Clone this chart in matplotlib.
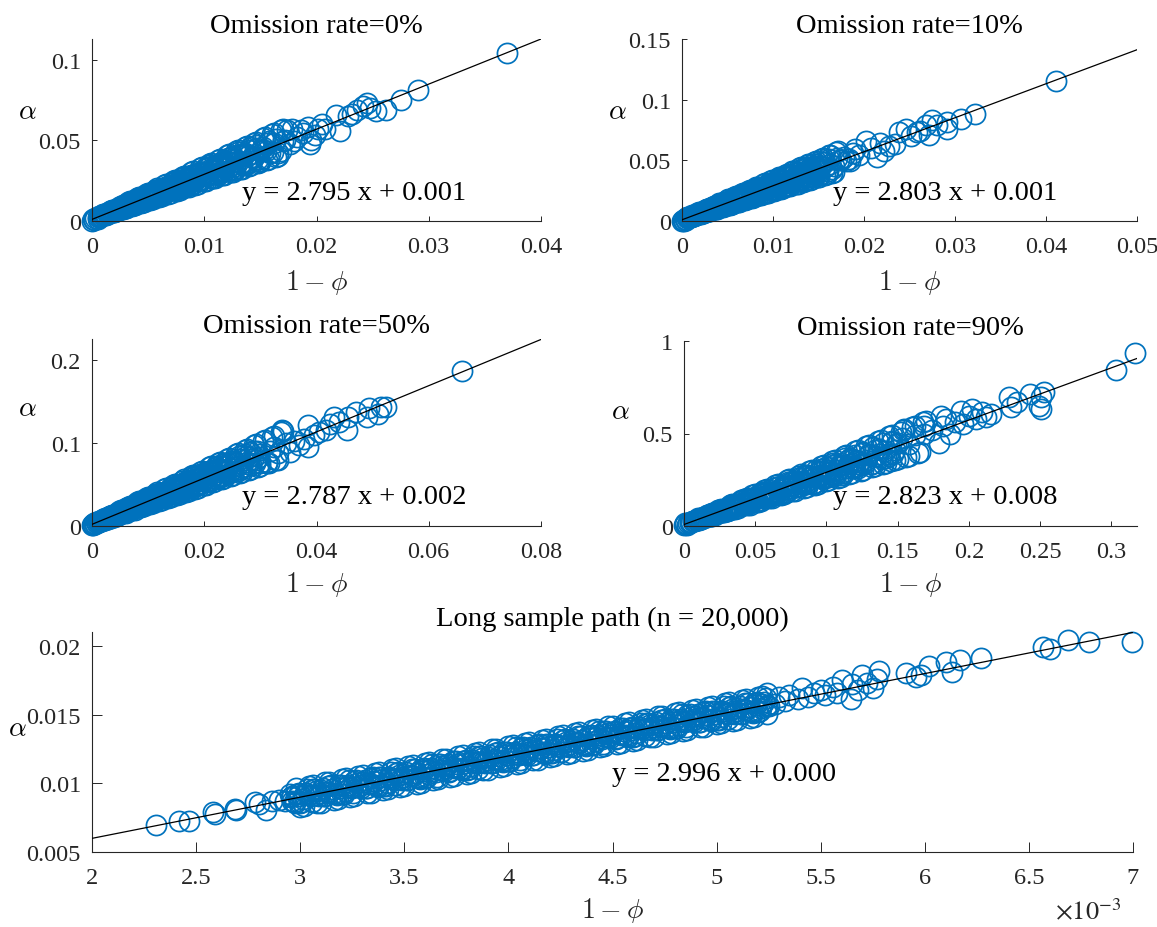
import numpy as np
import matplotlib
matplotlib.use("Agg")
import matplotlib.pyplot as plt
from matplotlib.ticker import FormatStrFormatter

plt.rcParams['font.family'] = ['Liberation Serif', 'DejaVu Serif']
plt.rcParams['mathtext.fontset'] = 'cm'

BLUE = '#0072BD'
GREY = '#262626'

# ---- omission rate = 0% ----
x1 = [0.0000, 0.0001, 0.0002, 0.0003, 0.0005,
      0.0006, 0.0008, 0.0010, 0.0012, 0.0013, 0.0015, 0.0016, 0.0018, 0.0019, 0.0021,
      0.0022, 0.0024, 0.0025, 0.0027, 0.0028, 0.0030, 0.0031, 0.0033, 0.0034, 0.0036,
      0.0037, 0.0039, 0.0040, 0.0042, 0.0043, 0.0045, 0.0046, 0.0048, 0.0049, 0.0051,
      0.0052, 0.0054, 0.0055, 0.0057, 0.0058, 0.0060, 0.0061, 0.0063, 0.0064, 0.0066,
      0.0067, 0.0069, 0.0070, 0.0072, 0.0073, 0.0075, 0.0076, 0.0078, 0.0079, 0.0081,
      0.0082, 0.0084, 0.0085, 0.0087, 0.0088, 0.0090, 0.0091, 0.0093, 0.0094, 0.0096,
      0.0097, 0.0099, 0.0100, 0.0102, 0.0104, 0.0106, 0.0108, 0.0110, 0.0112, 0.0114,
      0.0116, 0.0118, 0.0120, 0.0122, 0.0124, 0.0126, 0.0128, 0.0130, 0.0132, 0.0134,
      0.0136, 0.0138, 0.0140, 0.0143, 0.0146, 0.0149, 0.0152, 0.0155, 0.0158, 0.0161,
      0.0164, 0.0168, 0.0172, 0.0176,
      0.0178, 0.0183, 0.0188, 0.0192, 0.0195, 0.0199, 0.0205, 0.0208, 0.0217, 0.0221,
      0.0228, 0.0232, 0.0236, 0.0241, 0.0245, 0.0248, 0.0253, 0.0262, 0.0275, 0.0290, 0.0370]
y1 = [0.0000, 0.0015, 0.0005, 0.0020, 0.0010,
      0.0028, 0.0030, 0.0039, 0.0042, 0.0051, 0.0047, 0.0057, 0.0059, 0.0069, 0.0064,
      0.0077, 0.0070, 0.0081, 0.0082, 0.0098, 0.0083, 0.0101, 0.0101, 0.0115, 0.0103,
      0.0122, 0.0108, 0.0124, 0.0122, 0.0145, 0.0120, 0.0145, 0.0142, 0.0161, 0.0141,
      0.0167, 0.0146, 0.0167, 0.0162, 0.0192, 0.0156, 0.0189, 0.0183, 0.0207, 0.0180,
      0.0213, 0.0184, 0.0210, 0.0202, 0.0239, 0.0193, 0.0233, 0.0224, 0.0253, 0.0219,
      0.0258, 0.0222, 0.0253, 0.0241, 0.0286, 0.0229, 0.0278, 0.0265, 0.0300, 0.0257,
      0.0303, 0.0260, 0.0296, 0.0281, 0.0336, 0.0268, 0.0328, 0.0312, 0.0355, 0.0304,
      0.0361, 0.0307, 0.0353, 0.0335, 0.0399, 0.0317, 0.0386, 0.0367, 0.0417, 0.0355,
      0.0421, 0.0358, 0.0410, 0.0390, 0.0468, 0.0373, 0.0457, 0.0435, 0.0497, 0.0425,
      0.0506, 0.0433, 0.0501, 0.0478,
      0.0570, 0.0520, 0.0545, 0.0580, 0.0505, 0.0535, 0.0600, 0.0570, 0.0660, 0.0555,
      0.0650, 0.0665, 0.0690, 0.0710, 0.0730, 0.0700, 0.0680, 0.0690, 0.0750, 0.0810, 0.1040]
x1b = [0.0007, 0.0009, 0.0011, 0.0014, 0.0017, 0.0020, 0.0023, 0.0026, 0.0029, 0.0032,
       0.0035, 0.0038, 0.0041, 0.0044, 0.0047, 0.0050, 0.0053, 0.0056, 0.0059, 0.0062,
       0.0065, 0.0068, 0.0071, 0.0074, 0.0077, 0.0080, 0.0083, 0.0086, 0.0089, 0.0092,
       0.0095, 0.0098, 0.0101, 0.0103, 0.0105, 0.0107, 0.0109, 0.0111, 0.0113, 0.0115,
       0.0117, 0.0119, 0.0121, 0.0123, 0.0125, 0.0127, 0.0129, 0.0131, 0.0133, 0.0135,
       0.0137, 0.0139, 0.0141, 0.0144, 0.0147, 0.0150, 0.0153, 0.0156, 0.0159, 0.0162,
       0.0166, 0.0170, 0.0174, 0.0180, 0.0186, 0.0194, 0.0201]
y1b = [0.0027, 0.0036, 0.0045, 0.0048, 0.0061, 0.0058, 0.0074, 0.0089, 0.0086, 0.0104,
       0.0097, 0.0119, 0.0140, 0.0128, 0.0151, 0.0130, 0.0158, 0.0181, 0.0164, 0.0192,
       0.0172, 0.0204, 0.0235, 0.0209, 0.0241, 0.0203, 0.0242, 0.0272, 0.0242, 0.0280,
       0.0247, 0.0290, 0.0330, 0.0287, 0.0325, 0.0268, 0.0315, 0.0349, 0.0304, 0.0348,
       0.0302, 0.0350, 0.0393, 0.0341, 0.0385, 0.0316, 0.0371, 0.0410, 0.0356, 0.0407,
       0.0351, 0.0407, 0.0456, 0.0397, 0.0450, 0.0371, 0.0438, 0.0486, 0.0424, 0.0486,
       0.0424, 0.0496, 0.0561, 0.0494, 0.0567, 0.0477, 0.0573]
x1c = [0.00050, 0.00075, 0.00100, 0.00125, 0.00150, 0.00175, 0.00200, 0.00225, 0.00250, 0.00275,
       0.00300, 0.00325, 0.00350, 0.00375, 0.00400, 0.00425, 0.00450, 0.00475, 0.00500, 0.00525,
       0.00550, 0.00575, 0.00600, 0.00625, 0.00650, 0.00675, 0.00700, 0.00725, 0.00750, 0.00775,
       0.00800, 0.00825, 0.00850, 0.00875, 0.00900, 0.00925, 0.00950, 0.00975, 0.01000, 0.01025,
       0.01050, 0.01075, 0.01100, 0.01125, 0.01150, 0.01175, 0.01200, 0.01225, 0.01250, 0.01275,
       0.01300, 0.01325, 0.01350, 0.01375, 0.01400, 0.01425, 0.01450, 0.01475, 0.01500]
y1c = [0.0026, 0.0030, 0.0039, 0.0040, 0.0056, 0.0058, 0.0070, 0.0067, 0.0081, 0.0082,
       0.0106, 0.0096, 0.0113, 0.0101, 0.0133, 0.0125, 0.0146, 0.0130, 0.0151, 0.0147,
       0.0186, 0.0161, 0.0186, 0.0162, 0.0210, 0.0193, 0.0222, 0.0193, 0.0222, 0.0212,
       0.0265, 0.0227, 0.0260, 0.0223, 0.0287, 0.0261, 0.0297, 0.0256, 0.0293, 0.0277,
       0.0345, 0.0293, 0.0333, 0.0284, 0.0364, 0.0329, 0.0373, 0.0319, 0.0364, 0.0342,
       0.0425, 0.0359, 0.0407, 0.0345, 0.0441, 0.0397, 0.0449, 0.0382, 0.0434]
# points along the upper / lower edge of the band
x1d = [0.0010, 0.0014, 0.0018, 0.0022, 0.0026, 0.0030, 0.0034, 0.0038, 0.0042, 0.0046,
       0.0050, 0.0054, 0.0058, 0.0062, 0.0066, 0.0070, 0.0074, 0.0078, 0.0082, 0.0086,
       0.0090, 0.0094, 0.0098, 0.0102, 0.0106, 0.0110, 0.0114, 0.0118, 0.0122, 0.0126,
       0.0130, 0.0134, 0.0138, 0.0142, 0.0146, 0.0150, 0.0154, 0.0158, 0.0162, 0.0166, 0.0170]
y1d = [0.0043, 0.0043, 0.0069, 0.0062, 0.0096, 0.0081, 0.0122, 0.0099, 0.0149, 0.0118,
       0.0175, 0.0137, 0.0202, 0.0156, 0.0228, 0.0175, 0.0255, 0.0193, 0.0281, 0.0212,
       0.0307, 0.0231, 0.0334, 0.0250, 0.0360, 0.0269, 0.0387, 0.0288, 0.0413, 0.0306,
       0.0440, 0.0325, 0.0466, 0.0344, 0.0492, 0.0363, 0.0519, 0.0382, 0.0545, 0.0400, 0.0572]
x1e = [0.0012, 0.0016, 0.0020, 0.0024, 0.0028, 0.0032, 0.0036, 0.0040, 0.0044, 0.0048,
       0.0052, 0.0056, 0.0060, 0.0064, 0.0068, 0.0072, 0.0076, 0.0080, 0.0084, 0.0088,
       0.0092, 0.0096, 0.0100, 0.0104, 0.0108, 0.0112, 0.0116, 0.0120, 0.0124, 0.0128,
       0.0132, 0.0136, 0.0140, 0.0144, 0.0148, 0.0152, 0.0156, 0.0160, 0.0164, 0.0168]
y1e = [0.0038, 0.0063, 0.0057, 0.0089, 0.0076, 0.0116, 0.0095, 0.0142, 0.0113, 0.0169,
       0.0132, 0.0195, 0.0151, 0.0221, 0.0170, 0.0248, 0.0189, 0.0274, 0.0208, 0.0301,
       0.0226, 0.0327, 0.0245, 0.0354, 0.0264, 0.0380, 0.0283, 0.0406, 0.0302, 0.0433,
       0.0320, 0.0459, 0.0339, 0.0486, 0.0358, 0.0512, 0.0377, 0.0539, 0.0396, 0.0565]

# ---- omission rate = 10% ----
x2 = [0.0000, 0.0001, 0.0002, 0.0003, 0.0004,
      0.0006, 0.0008, 0.0010, 0.0012, 0.0014, 0.0016, 0.0018, 0.0020, 0.0022, 0.0024,
      0.0026, 0.0028, 0.0030, 0.0032, 0.0034, 0.0036, 0.0038, 0.0040, 0.0042, 0.0044,
      0.0046, 0.0048, 0.0050, 0.0052, 0.0054, 0.0056, 0.0058, 0.0060, 0.0062, 0.0064,
      0.0066, 0.0068, 0.0070, 0.0072, 0.0074, 0.0076, 0.0078, 0.0080, 0.0082, 0.0084,
      0.0086, 0.0088, 0.0090, 0.0092, 0.0094, 0.0096, 0.0098, 0.0100, 0.0102, 0.0104,
      0.0106, 0.0108, 0.0110, 0.0112, 0.0114, 0.0116, 0.0118, 0.0120, 0.0122, 0.0124,
      0.0126, 0.0128, 0.0130, 0.0132, 0.0134, 0.0136, 0.0138, 0.0140, 0.0142, 0.0144,
      0.0146, 0.0148, 0.0150,
      0.0153, 0.0157, 0.0161, 0.0165, 0.0170, 0.0175, 0.0180, 0.0185, 0.0190,
      0.0195, 0.0202, 0.0208, 0.0214, 0.0218, 0.0222, 0.0228, 0.0234, 0.0238, 0.0246,
      0.0252, 0.0258, 0.0262, 0.0268, 0.0271, 0.0275, 0.0280, 0.0291, 0.0291, 0.0307,
      0.0322, 0.0411]
y2 = [0.0000, 0.0012, 0.0004, 0.0018, 0.0008,
      0.0026, 0.0035, 0.0035, 0.0045, 0.0048, 0.0060, 0.0056, 0.0070, 0.0072, 0.0075,
      0.0078, 0.0096, 0.0084, 0.0103, 0.0103, 0.0123, 0.0107, 0.0130, 0.0128, 0.0128,
      0.0131, 0.0158, 0.0133, 0.0161, 0.0158, 0.0186, 0.0158, 0.0190, 0.0184, 0.0182,
      0.0184, 0.0219, 0.0182, 0.0220, 0.0213, 0.0248, 0.0209, 0.0250, 0.0240, 0.0236,
      0.0236, 0.0281, 0.0232, 0.0278, 0.0268, 0.0311, 0.0260, 0.0310, 0.0296, 0.0290,
      0.0289, 0.0343, 0.0281, 0.0336, 0.0323, 0.0374, 0.0311, 0.0370, 0.0352, 0.0343,
      0.0342, 0.0404, 0.0330, 0.0394, 0.0378, 0.0437, 0.0362, 0.0429, 0.0408, 0.0397,
      0.0394, 0.0466, 0.0380,
      0.0456, 0.0441, 0.0515, 0.0430, 0.0519, 0.0500, 0.0494, 0.0497, 0.0595,
      0.0545, 0.0660, 0.0600, 0.0526, 0.0640, 0.0580, 0.0615, 0.0636, 0.0730, 0.0760,
      0.0700, 0.0733, 0.0745, 0.0790, 0.0706, 0.0830, 0.0790, 0.0816, 0.0760, 0.0844,
      0.0885, 0.1154]
x2b = [0.0007, 0.0010, 0.0013, 0.0016, 0.0019, 0.0022, 0.0025, 0.0028, 0.0031, 0.0034,
       0.0037, 0.0040, 0.0043, 0.0046, 0.0049, 0.0052, 0.0055, 0.0058, 0.0061, 0.0064,
       0.0067, 0.0070, 0.0073, 0.0076, 0.0079, 0.0082, 0.0085, 0.0088, 0.0091, 0.0094,
       0.0097, 0.0100, 0.0103, 0.0106, 0.0109, 0.0112, 0.0115, 0.0118, 0.0121, 0.0124,
       0.0127, 0.0130, 0.0133, 0.0136, 0.0139, 0.0142, 0.0145, 0.0148, 0.0151, 0.0154,
       0.0157, 0.0160, 0.0163, 0.0167, 0.0172, 0.0178, 0.0183, 0.0188]
y2b = [0.0031, 0.0035, 0.0046, 0.0061, 0.0059, 0.0074, 0.0071, 0.0093, 0.0094, 0.0116,
       0.0123, 0.0111, 0.0130, 0.0156, 0.0138, 0.0161, 0.0144, 0.0182, 0.0176, 0.0209,
       0.0214, 0.0186, 0.0214, 0.0250, 0.0216, 0.0249, 0.0217, 0.0271, 0.0257, 0.0302,
       0.0306, 0.0262, 0.0298, 0.0345, 0.0294, 0.0336, 0.0290, 0.0360, 0.0339, 0.0395,
       0.0398, 0.0338, 0.0382, 0.0440, 0.0372, 0.0424, 0.0363, 0.0449, 0.0420, 0.0489,
       0.0489, 0.0413, 0.0470, 0.0455, 0.0505, 0.0530, 0.0510, 0.0560]
x2c = [0.0006, 0.00085, 0.0011, 0.00135, 0.0016, 0.00185, 0.0021, 0.00235, 0.0026, 0.00285,
       0.0031, 0.00335, 0.0036, 0.00385, 0.0041, 0.00435, 0.0046, 0.00485, 0.0051, 0.00535,
       0.0056, 0.00585, 0.0061, 0.00635, 0.0066, 0.00685, 0.0071, 0.00735, 0.0076, 0.00785,
       0.0081, 0.00835, 0.0086, 0.00885, 0.0091, 0.00935, 0.0096, 0.00985, 0.0101, 0.01035,
       0.0106, 0.01085, 0.0111, 0.01135, 0.0116, 0.01185, 0.0121, 0.01235, 0.0126, 0.01285,
       0.0131, 0.01335, 0.0136, 0.01385, 0.0141, 0.01435, 0.0146, 0.01485, 0.0151]
y2c = [0.0029, 0.0033, 0.0042, 0.0043, 0.0059, 0.0061, 0.0073, 0.0070, 0.0084, 0.0085,
       0.0109, 0.0099, 0.0116, 0.0104, 0.0136, 0.0128, 0.0149, 0.0133, 0.0154, 0.0150,
       0.0189, 0.0164, 0.0189, 0.0165, 0.0213, 0.0196, 0.0225, 0.0196, 0.0225, 0.0215,
       0.0268, 0.0230, 0.0263, 0.0226, 0.0290, 0.0264, 0.0300, 0.0259, 0.0296, 0.0280,
       0.0348, 0.0296, 0.0336, 0.0287, 0.0367, 0.0332, 0.0376, 0.0322, 0.0367, 0.0345,
       0.0428, 0.0362, 0.0410, 0.0348, 0.0444, 0.0400, 0.0452, 0.0385, 0.0437]
x2d = [0.0011, 0.0015, 0.0019, 0.0023, 0.0027, 0.0031, 0.0035, 0.0039, 0.0043, 0.0047,
       0.0051, 0.0055, 0.0059, 0.0063, 0.0067, 0.0071, 0.0075, 0.0079, 0.0083, 0.0087,
       0.0091, 0.0095, 0.0099, 0.0103, 0.0107, 0.0111, 0.0115, 0.0119, 0.0123, 0.0127,
       0.0131, 0.0135, 0.0139, 0.0143, 0.0147, 0.0151, 0.0155, 0.0159, 0.0163, 0.0167, 0.0171]
y2d = [0.0046, 0.0046, 0.0072, 0.0065, 0.0099, 0.0084, 0.0125, 0.0102, 0.0152, 0.0121,
       0.0178, 0.0140, 0.0205, 0.0159, 0.0231, 0.0178, 0.0258, 0.0196, 0.0284, 0.0215,
       0.0310, 0.0234, 0.0337, 0.0253, 0.0363, 0.0272, 0.0390, 0.0291, 0.0416, 0.0309,
       0.0443, 0.0328, 0.0469, 0.0347, 0.0495, 0.0366, 0.0522, 0.0385, 0.0548, 0.0403, 0.0575]
x2e = [0.0013, 0.0017, 0.0021, 0.0025, 0.0029, 0.0033, 0.0037, 0.0041, 0.0045, 0.0049,
       0.0053, 0.0057, 0.0061, 0.0065, 0.0069, 0.0073, 0.0077, 0.0081, 0.0085, 0.0089,
       0.0093, 0.0097, 0.0101, 0.0105, 0.0109, 0.0113, 0.0117, 0.0121, 0.0125, 0.0129,
       0.0133, 0.0137, 0.0141, 0.0145, 0.0149, 0.0153, 0.0157, 0.0161, 0.0165, 0.0169]
y2e = [0.0041, 0.0066, 0.0060, 0.0092, 0.0079, 0.0119, 0.0098, 0.0145, 0.0116, 0.0172,
       0.0135, 0.0198, 0.0154, 0.0224, 0.0173, 0.0251, 0.0192, 0.0277, 0.0211, 0.0304,
       0.0229, 0.0330, 0.0248, 0.0357, 0.0267, 0.0383, 0.0286, 0.0409, 0.0305, 0.0436,
       0.0323, 0.0462, 0.0342, 0.0489, 0.0361, 0.0515, 0.0380, 0.0542, 0.0399, 0.0568]

# ---- omission rate = 50% ----
x3 = [0.0000, 0.0001, 0.0002, 0.0003, 0.0005,
      0.0008, 0.0012, 0.0016, 0.0020, 0.0024, 0.0028, 0.0032, 0.0036, 0.0040, 0.0044,
      0.0048, 0.0052, 0.0056, 0.0060, 0.0064, 0.0068, 0.0072, 0.0076, 0.0080, 0.0084,
      0.0088, 0.0092, 0.0096, 0.0100, 0.0104, 0.0108, 0.0112, 0.0116, 0.0120, 0.0124,
      0.0128, 0.0132, 0.0136, 0.0140, 0.0144, 0.0148, 0.0152, 0.0156, 0.0160, 0.0164,
      0.0168, 0.0172, 0.0176, 0.0180, 0.0184, 0.0188, 0.0192, 0.0196, 0.0200, 0.0204,
      0.0208, 0.0212, 0.0216, 0.0220, 0.0224, 0.0228, 0.0232, 0.0236, 0.0240, 0.0244,
      0.0248, 0.0252, 0.0256, 0.0260, 0.0264, 0.0268, 0.0272, 0.0276, 0.0280, 0.0284,
      0.0288, 0.0292, 0.0296, 0.0300,
      0.0312, 0.0318, 0.0325, 0.0332, 0.0339, 0.0345, 0.0352, 0.0360, 0.0368, 0.0378,
      0.0385, 0.0385, 0.0395, 0.0405, 0.0417, 0.0424, 0.0431, 0.0440, 0.0454, 0.0457,
      0.0470, 0.0490, 0.0493, 0.0510, 0.0515, 0.0523, 0.0659]
y3 = [0.0010, 0.0025, 0.0015, 0.0035, 0.0020,
      0.0045, 0.0052, 0.0066, 0.0069, 0.0091, 0.0092, 0.0120, 0.0119, 0.0136, 0.0131,
      0.0168, 0.0158, 0.0182, 0.0168, 0.0210, 0.0195, 0.0246, 0.0229, 0.0253, 0.0232,
      0.0291, 0.0265, 0.0297, 0.0266, 0.0329, 0.0298, 0.0371, 0.0338, 0.0369, 0.0332,
      0.0414, 0.0371, 0.0412, 0.0365, 0.0447, 0.0401, 0.0497, 0.0448, 0.0486, 0.0433,
      0.0537, 0.0478, 0.0528, 0.0464, 0.0566, 0.0504, 0.0622, 0.0558, 0.0602, 0.0534,
      0.0661, 0.0584, 0.0643, 0.0562, 0.0685, 0.0607, 0.0748, 0.0668, 0.0719, 0.0635,
      0.0784, 0.0690, 0.0758, 0.0661, 0.0804, 0.0710, 0.0873, 0.0777, 0.0835, 0.0736,
      0.0907, 0.0797, 0.0874, 0.0759,
      0.0770, 0.0900, 0.0950, 0.0880, 0.1154, 0.1000, 0.0890, 0.1030, 0.0980, 0.1050,
      0.1215, 0.0951, 0.1100, 0.1130, 0.1154, 0.1235, 0.1316, 0.1250, 0.1154, 0.1316,
      0.1377, 0.1316, 0.1417, 0.1356, 0.1430, 0.1437, 0.1870]
x3b = [0.0010, 0.0014, 0.0018, 0.0022, 0.0026, 0.0030, 0.0034, 0.0038, 0.0042, 0.0046,
       0.0050, 0.0054, 0.0058, 0.0062, 0.0066, 0.0070, 0.0074, 0.0078, 0.0082, 0.0086,
       0.0090, 0.0094, 0.0098, 0.0102, 0.0106, 0.0110, 0.0114, 0.0118, 0.0122, 0.0126,
       0.0130, 0.0134, 0.0138, 0.0142, 0.0146, 0.0150, 0.0154, 0.0158, 0.0162, 0.0166,
       0.0170, 0.0174, 0.0178, 0.0182, 0.0186, 0.0190, 0.0194, 0.0198, 0.0202, 0.0206,
       0.0210, 0.0214, 0.0218, 0.0222, 0.0226, 0.0230, 0.0234, 0.0238, 0.0242, 0.0246,
       0.0250, 0.0254, 0.0258, 0.0262, 0.0266, 0.0270, 0.0274, 0.0278, 0.0282, 0.0286,
       0.0290, 0.0294, 0.0298]
y3b = [0.0045, 0.0062, 0.0069, 0.0089, 0.0085, 0.0106, 0.0122, 0.0120, 0.0149, 0.0148,
       0.0147, 0.0183, 0.0178, 0.0214, 0.0184, 0.0220, 0.0242, 0.0225, 0.0273, 0.0258,
       0.0249, 0.0304, 0.0286, 0.0340, 0.0284, 0.0334, 0.0362, 0.0331, 0.0396, 0.0369,
       0.0351, 0.0425, 0.0395, 0.0465, 0.0384, 0.0448, 0.0481, 0.0436, 0.0519, 0.0480,
       0.0453, 0.0546, 0.0503, 0.0591, 0.0484, 0.0563, 0.0601, 0.0541, 0.0642, 0.0591,
       0.0555, 0.0667, 0.0612, 0.0716, 0.0583, 0.0677, 0.0721, 0.0646, 0.0765, 0.0702,
       0.0657, 0.0788, 0.0721, 0.0842, 0.0683, 0.0791, 0.0841, 0.0752, 0.0889, 0.0813,
       0.0759, 0.0909, 0.0829]
x3c = [0.0009, 0.0013, 0.0017, 0.0021, 0.0025, 0.0029, 0.0033, 0.0037, 0.0041, 0.0045,
       0.0049, 0.0053, 0.0057, 0.0061, 0.0065, 0.0069, 0.0073, 0.0077, 0.0081, 0.0085,
       0.0089, 0.0093, 0.0097, 0.0101, 0.0105, 0.0109, 0.0113, 0.0117, 0.0121, 0.0125,
       0.0129, 0.0133, 0.0137, 0.0141, 0.0145, 0.0149, 0.0153, 0.0157, 0.0161, 0.0165,
       0.0169, 0.0173, 0.0177, 0.0181, 0.0185, 0.0189, 0.0193, 0.0197, 0.0201, 0.0205,
       0.0209, 0.0213, 0.0217, 0.0221, 0.0225, 0.0229, 0.0233, 0.0237, 0.0241, 0.0245]
y3c = [0.0042, 0.0060, 0.0066, 0.0087, 0.0084, 0.0104, 0.0102, 0.0135, 0.0133, 0.0154,
       0.0139, 0.0182, 0.0173, 0.0215, 0.0187, 0.0219, 0.0202, 0.0259, 0.0242, 0.0272,
       0.0237, 0.0304, 0.0281, 0.0342, 0.0290, 0.0334, 0.0302, 0.0384, 0.0352, 0.0391,
       0.0334, 0.0426, 0.0388, 0.0470, 0.0394, 0.0450, 0.0401, 0.0508, 0.0462, 0.0510,
       0.0432, 0.0548, 0.0496, 0.0598, 0.0497, 0.0565, 0.0501, 0.0632, 0.0572, 0.0628,
       0.0529, 0.0670, 0.0603, 0.0725, 0.0600, 0.0680, 0.0601, 0.0757, 0.0681, 0.0747]
x3d = [0.0020, 0.0028, 0.0036, 0.0044, 0.0052, 0.0060, 0.0068, 0.0076, 0.0084, 0.0092,
       0.0100, 0.0108, 0.0116, 0.0124, 0.0132, 0.0140, 0.0148, 0.0156, 0.0164, 0.0172,
       0.0180, 0.0188, 0.0196, 0.0204, 0.0212, 0.0220, 0.0228, 0.0236, 0.0244, 0.0252,
       0.0260, 0.0268, 0.0276, 0.0284, 0.0292, 0.0300, 0.0308, 0.0316, 0.0324, 0.0332, 0.0340]
y3d = [0.0086, 0.0086, 0.0138, 0.0124, 0.0192, 0.0162, 0.0244, 0.0198, 0.0298, 0.0236,
       0.0350, 0.0274, 0.0404, 0.0312, 0.0456, 0.0350, 0.0510, 0.0386, 0.0562, 0.0424,
       0.0614, 0.0462, 0.0668, 0.0500, 0.0720, 0.0538, 0.0774, 0.0576, 0.0826, 0.0612,
       0.0880, 0.0650, 0.0932, 0.0688, 0.0984, 0.0726, 0.1038, 0.0764, 0.1090, 0.0800, 0.1144]
x3e = [0.0024, 0.0032, 0.0040, 0.0048, 0.0056, 0.0064, 0.0072, 0.0080, 0.0088, 0.0096,
       0.0104, 0.0112, 0.0120, 0.0128, 0.0136, 0.0144, 0.0152, 0.0160, 0.0168, 0.0176,
       0.0184, 0.0192, 0.0200, 0.0208, 0.0216, 0.0224, 0.0232, 0.0240, 0.0248, 0.0256,
       0.0264, 0.0272, 0.0280, 0.0288, 0.0296, 0.0304, 0.0312, 0.0320, 0.0328, 0.0336]
y3e = [0.0076, 0.0126, 0.0114, 0.0178, 0.0152, 0.0232, 0.0190, 0.0284, 0.0226, 0.0338,
       0.0264, 0.0390, 0.0302, 0.0442, 0.0340, 0.0496, 0.0378, 0.0548, 0.0416, 0.0602,
       0.0452, 0.0654, 0.0490, 0.0708, 0.0528, 0.0760, 0.0566, 0.0812, 0.0604, 0.0866,
       0.0640, 0.0918, 0.0678, 0.0972, 0.0716, 0.1024, 0.0754, 0.1078, 0.0792, 0.1130]

# ---- omission rate = 90% ----
x4 = [0.000, 0.001, 0.002, 0.0005, 0.003,
      0.004, 0.006, 0.008, 0.010, 0.012, 0.014, 0.016, 0.018, 0.020, 0.022,
      0.024, 0.026, 0.028, 0.030, 0.032, 0.034, 0.036, 0.038, 0.040, 0.042,
      0.044, 0.046, 0.048, 0.050, 0.052, 0.054, 0.056, 0.058, 0.060, 0.062,
      0.064, 0.066, 0.068, 0.070, 0.072, 0.074, 0.076, 0.078, 0.080, 0.082,
      0.084, 0.086, 0.088, 0.090, 0.092, 0.094, 0.096, 0.098, 0.100, 0.102,
      0.104, 0.106, 0.108, 0.110, 0.112, 0.114, 0.116, 0.118, 0.120, 0.122,
      0.124, 0.126, 0.128, 0.130, 0.132, 0.134, 0.136, 0.138, 0.140, 0.142,
      0.144, 0.146, 0.148, 0.150,
      0.1455, 0.1530, 0.1545, 0.1580, 0.1620, 0.1688, 0.1688, 0.1740, 0.1791, 0.1869,
      0.1817, 0.1804, 0.1840, 0.1900, 0.1960, 0.1947, 0.1998, 0.2020, 0.2050, 0.2090,
      0.2120, 0.2154, 0.2340, 0.2296, 0.2280, 0.2426, 0.2503, 0.2490, 0.2503, 0.2529,
      0.3034, 0.3163]
y4 = [0.005, 0.012, 0.008, 0.018, 0.015,
      0.0183, 0.0266, 0.0297, 0.0374, 0.0376, 0.0503, 0.0528, 0.0554, 0.0707, 0.0634,
      0.0698, 0.0888, 0.0841, 0.0962, 0.0868, 0.1108, 0.1088, 0.1080, 0.1334, 0.1138,
      0.1213, 0.1510, 0.1384, 0.1550, 0.1361, 0.1713, 0.1648, 0.1607, 0.1962, 0.1642,
      0.1729, 0.2131, 0.1927, 0.2138, 0.1854, 0.2318, 0.2208, 0.2133, 0.2589, 0.2146,
      0.2244, 0.2753, 0.2470, 0.2726, 0.2347, 0.2923, 0.2768, 0.2659, 0.3216, 0.2650,
      0.2759, 0.3374, 0.3013, 0.3314, 0.2840, 0.3527, 0.3328, 0.3186, 0.3843, 0.3154,
      0.3274, 0.3996, 0.3557, 0.3902, 0.3333, 0.4132, 0.3888, 0.3712, 0.4470, 0.3658,
      0.3789, 0.4618, 0.4100, 0.4490,
      0.3500, 0.4770, 0.5228, 0.4450, 0.4900, 0.5410, 0.4950, 0.5200, 0.4499, 0.4954,
      0.5410, 0.5960, 0.5770, 0.5600, 0.5500, 0.6230, 0.5960, 0.6300, 0.5770, 0.6140,
      0.5900, 0.6050, 0.6680, 0.6410, 0.6960, 0.7140, 0.6320, 0.6500, 0.6960, 0.7230,
      0.8415, 0.9326]
x4b = [0.005, 0.007, 0.009, 0.011, 0.013, 0.015, 0.017, 0.019, 0.021, 0.023,
       0.025, 0.027, 0.029, 0.031, 0.033, 0.035, 0.037, 0.039, 0.041, 0.043,
       0.045, 0.047, 0.049, 0.051, 0.053, 0.055, 0.057, 0.059, 0.061, 0.063,
       0.065, 0.067, 0.069, 0.071, 0.073, 0.075, 0.077, 0.079, 0.081, 0.083,
       0.085, 0.087, 0.089, 0.091, 0.093, 0.095, 0.097, 0.099, 0.101, 0.103,
       0.105, 0.107, 0.109, 0.111, 0.113, 0.115, 0.117, 0.119, 0.121, 0.123,
       0.125, 0.127, 0.129, 0.131, 0.133, 0.135, 0.137, 0.139, 0.141, 0.143,
       0.145, 0.147, 0.149]
y4b = [0.0234, 0.0262, 0.0342, 0.0354, 0.0491, 0.0492, 0.0585, 0.0564, 0.0674, 0.0692,
       0.0850, 0.0783, 0.0925, 0.0853, 0.1124, 0.1040, 0.1178, 0.1074, 0.1240, 0.1224,
       0.1466, 0.1304, 0.1507, 0.1351, 0.1757, 0.1589, 0.1772, 0.1583, 0.1805, 0.1756,
       0.2082, 0.1825, 0.2089, 0.1849, 0.2390, 0.2138, 0.2365, 0.2093, 0.2371, 0.2288,
       0.2698, 0.2346, 0.2672, 0.2348, 0.3023, 0.2687, 0.2959, 0.2603, 0.2936, 0.2820,
       0.3314, 0.2866, 0.3254, 0.2846, 0.3655, 0.3236, 0.3553, 0.3112, 0.3502, 0.3352,
       0.3930, 0.3387, 0.3837, 0.3345, 0.4288, 0.3784, 0.4146, 0.3622, 0.4068, 0.3884,
       0.4546, 0.3908, 0.4419]
x4c = [0.0045, 0.0065, 0.0085, 0.0105, 0.0125, 0.0145, 0.0165, 0.0185, 0.0205, 0.0225,
       0.0245, 0.0265, 0.0285, 0.0305, 0.0325, 0.0345, 0.0365, 0.0385, 0.0405, 0.0425,
       0.0445, 0.0465, 0.0485, 0.0505, 0.0525, 0.0545, 0.0565, 0.0585, 0.0605, 0.0625,
       0.0645, 0.0665, 0.0685, 0.0705, 0.0725, 0.0745, 0.0765, 0.0785, 0.0805, 0.0825,
       0.0845, 0.0865, 0.0885, 0.0905, 0.0925, 0.0945, 0.0965, 0.0985, 0.1005, 0.1025,
       0.1045, 0.1065, 0.1085, 0.1105, 0.1125, 0.1145, 0.1165, 0.1185, 0.1205, 0.1225]
y4c = [0.0222, 0.0244, 0.0332, 0.0336, 0.0437, 0.0466, 0.0593, 0.0557, 0.0677, 0.0704,
       0.0855, 0.0748, 0.0926, 0.0823, 0.1008, 0.0998, 0.1214, 0.1072, 0.1259, 0.1258,
       0.1488, 0.1252, 0.1520, 0.1310, 0.1579, 0.1530, 0.1836, 0.1587, 0.1842, 0.1813,
       0.2121, 0.1756, 0.2113, 0.1797, 0.2151, 0.2062, 0.2458, 0.2102, 0.2424, 0.2367,
       0.2754, 0.2260, 0.2707, 0.2285, 0.2722, 0.2594, 0.3079, 0.2617, 0.3007, 0.2921,
       0.3386, 0.2764, 0.3300, 0.2772, 0.3293, 0.3126, 0.3701, 0.3133, 0.3589, 0.3476]
x4d = [0.010, 0.014, 0.018, 0.022, 0.026, 0.030, 0.034, 0.038, 0.042, 0.046,
       0.050, 0.054, 0.058, 0.062, 0.066, 0.070, 0.074, 0.078, 0.082, 0.086,
       0.090, 0.094, 0.098, 0.102, 0.106, 0.110, 0.114, 0.118, 0.122, 0.126,
       0.130, 0.134, 0.138, 0.142, 0.146, 0.150, 0.154, 0.158, 0.162, 0.166, 0.170]
y4d = [0.041, 0.041, 0.067, 0.060, 0.094, 0.079, 0.120, 0.097, 0.147, 0.116,
       0.173, 0.135, 0.200, 0.154, 0.226, 0.173, 0.253, 0.191, 0.279, 0.210,
       0.305, 0.229, 0.332, 0.248, 0.358, 0.267, 0.385, 0.286, 0.411, 0.304,
       0.438, 0.323, 0.464, 0.342, 0.490, 0.361, 0.517, 0.380, 0.543, 0.398, 0.570]
x4e = [0.012, 0.016, 0.020, 0.024, 0.028, 0.032, 0.036, 0.040, 0.044, 0.048,
       0.052, 0.056, 0.060, 0.064, 0.068, 0.072, 0.076, 0.080, 0.084, 0.088,
       0.092, 0.096, 0.100, 0.104, 0.108, 0.112, 0.116, 0.120, 0.124, 0.128,
       0.132, 0.136, 0.140, 0.144, 0.148, 0.152, 0.156, 0.160, 0.164, 0.168]
y4e = [0.036, 0.061, 0.055, 0.087, 0.074, 0.114, 0.093, 0.140, 0.111, 0.167,
       0.130, 0.193, 0.149, 0.219, 0.168, 0.246, 0.187, 0.272, 0.206, 0.299,
       0.224, 0.325, 0.243, 0.352, 0.262, 0.378, 0.281, 0.404, 0.300, 0.431,
       0.318, 0.457, 0.337, 0.484, 0.356, 0.510, 0.375, 0.537, 0.394, 0.563]

# ---- long sample path, x in units of 1e-3 ----
x5 = [2.305, 2.420, 2.465, 2.580, 2.590, 2.686, 2.690, 2.784, 2.800, 2.837,
      2.863, 2.900, 2.926, 2.960,
      2.95, 2.97, 2.99, 3.01, 3.03, 3.05, 3.07, 3.09, 3.11, 3.13,
      3.15, 3.17, 3.19, 3.21, 3.23, 3.25, 3.27, 3.29, 3.31, 3.33,
      3.35, 3.37, 3.39, 3.41, 3.43, 3.45, 3.47, 3.49, 3.51, 3.53,
      3.55, 3.57, 3.59, 3.61, 3.63, 3.65, 3.67, 3.69, 3.71, 3.73,
      3.75, 3.77, 3.79, 3.81, 3.83, 3.85, 3.87, 3.89, 3.91, 3.93,
      3.95, 3.97, 3.99, 4.01, 4.03, 4.05, 4.07, 4.09, 4.11, 4.13,
      4.15, 4.17, 4.19, 4.21, 4.23, 4.25, 4.27, 4.29, 4.31, 4.33,
      4.35, 4.37, 4.39, 4.41, 4.43, 4.45, 4.47, 4.49, 4.51, 4.53,
      4.55, 4.57, 4.59, 4.61, 4.63, 4.65, 4.67, 4.69, 4.71, 4.73,
      4.75, 4.77, 4.79, 4.81, 4.83, 4.85, 4.87, 4.89, 4.91, 4.93,
      4.95, 4.97, 4.99, 5.01, 5.03, 5.05, 5.07, 5.09, 5.11, 5.13,
      5.15, 5.17, 5.19, 5.21, 5.23, 5.25,
      5.24, 5.24, 5.28, 5.30, 5.33, 5.35, 5.39, 5.41, 5.44, 5.47,
      5.50, 5.52, 5.56, 5.58, 5.60, 5.645, 5.65, 5.68, 5.70, 5.72,
      5.75, 5.77, 5.78, 5.91, 5.96, 5.98, 6.02, 6.10, 6.13, 6.17,
      6.27, 6.57, 6.60, 6.69, 6.79, 6.995]
y5 = [0.00697, 0.00727, 0.00727, 0.00788, 0.00775, 0.00813, 0.00805, 0.00862, 0.00850, 0.00805,
      0.00874, 0.00880, 0.00874, 0.00905,
      0.00925, 0.00861, 0.00907, 0.00863, 0.00929, 0.00905, 0.00961, 0.00907, 0.00963, 0.00939,
      0.00985, 0.00921, 0.00967, 0.00923, 0.00989, 0.00965, 0.01021, 0.00967, 0.01023, 0.00999,
      0.01045, 0.00981, 0.01027, 0.00983, 0.01049, 0.01025, 0.01081, 0.01027, 0.01083, 0.01059,
      0.01105, 0.01041, 0.01087, 0.01043, 0.01109, 0.01085, 0.01141, 0.01087, 0.01143, 0.01119,
      0.01165, 0.01101, 0.01147, 0.01103, 0.01169, 0.01145, 0.01201, 0.01147, 0.01203, 0.01179,
      0.01225, 0.01161, 0.01207, 0.01163, 0.01229, 0.01205, 0.01261, 0.01207, 0.01263, 0.01239,
      0.01285, 0.01221, 0.01267, 0.01223, 0.01289, 0.01265, 0.01321, 0.01267, 0.01323, 0.01299,
      0.01345, 0.01281, 0.01327, 0.01283, 0.01349, 0.01325, 0.01381, 0.01327, 0.01383, 0.01359,
      0.01405, 0.01341, 0.01387, 0.01343, 0.01409, 0.01385, 0.01441, 0.01387, 0.01443, 0.01419,
      0.01465, 0.01401, 0.01447, 0.01403, 0.01469, 0.01445, 0.01501, 0.01447, 0.01503, 0.01479,
      0.01525, 0.01461, 0.01507, 0.01463, 0.01529, 0.01505, 0.01561, 0.01507, 0.01563, 0.01539,
      0.01585, 0.01521, 0.01567, 0.01523, 0.01589, 0.01565,
      0.0166, 0.0156, 0.0158, 0.0163, 0.0160, 0.0164, 0.0161, 0.0169, 0.0163, 0.0166,
      0.0168, 0.0164, 0.0170, 0.0166, 0.0175, 0.0161, 0.0172, 0.0168, 0.0179, 0.0173,
      0.0169, 0.0176, 0.0182, 0.0180, 0.0177, 0.0179, 0.0185, 0.0188, 0.0181, 0.0190,
      0.0191, 0.0199, 0.0198, 0.0204, 0.0203, 0.0203]
x5b = [2.96, 2.98, 3.00, 3.02, 3.04, 3.06, 3.08, 3.10, 3.12, 3.14,
       3.16, 3.18, 3.20, 3.22, 3.24, 3.26, 3.28, 3.30, 3.32, 3.34,
       3.36, 3.38, 3.40, 3.42, 3.44, 3.46, 3.48, 3.50, 3.52, 3.54,
       3.56, 3.58, 3.60, 3.62, 3.64, 3.66, 3.68, 3.70, 3.72, 3.74,
       3.76, 3.78, 3.80, 3.82, 3.84, 3.86, 3.88, 3.90, 3.92, 3.94,
       3.96, 3.98, 4.00, 4.02, 4.04, 4.06, 4.08, 4.10, 4.12, 4.14,
       4.16, 4.18, 4.20, 4.22, 4.24, 4.26, 4.28, 4.30, 4.32, 4.34,
       4.36, 4.38, 4.40, 4.42, 4.44, 4.46, 4.48, 4.50, 4.52, 4.54,
       4.56, 4.58, 4.60, 4.62, 4.64, 4.66, 4.68, 4.70, 4.72, 4.74,
       4.76, 4.78, 4.80, 4.82, 4.84, 4.86, 4.88, 4.90, 4.92, 4.94,
       4.96, 4.98, 5.00, 5.02, 5.04, 5.06, 5.08, 5.10, 5.12, 5.14,
       5.16, 5.18, 5.20, 5.22, 5.24]
y5b = [0.00868, 0.00924, 0.00860, 0.00916, 0.00912, 0.00958, 0.00914, 0.00950, 0.00906, 0.00932,
       0.00928, 0.00984, 0.00920, 0.00976, 0.00972, 0.01018, 0.00974, 0.01010, 0.00966, 0.00992,
       0.00988, 0.01044, 0.00980, 0.01036, 0.01032, 0.01078, 0.01034, 0.01070, 0.01026, 0.01052,
       0.01048, 0.01104, 0.01040, 0.01096, 0.01092, 0.01138, 0.01094, 0.01130, 0.01086, 0.01112,
       0.01108, 0.01164, 0.01100, 0.01156, 0.01152, 0.01198, 0.01154, 0.01190, 0.01146, 0.01172,
       0.01168, 0.01224, 0.01160, 0.01216, 0.01212, 0.01258, 0.01214, 0.01250, 0.01206, 0.01232,
       0.01228, 0.01284, 0.01220, 0.01276, 0.01272, 0.01318, 0.01274, 0.01310, 0.01266, 0.01292,
       0.01288, 0.01344, 0.01280, 0.01336, 0.01332, 0.01378, 0.01334, 0.01370, 0.01326, 0.01352,
       0.01348, 0.01404, 0.01340, 0.01396, 0.01392, 0.01438, 0.01394, 0.01430, 0.01386, 0.01412,
       0.01408, 0.01464, 0.01400, 0.01456, 0.01452, 0.01498, 0.01454, 0.01490, 0.01446, 0.01472,
       0.01468, 0.01524, 0.01460, 0.01516, 0.01512, 0.01558, 0.01514, 0.01550, 0.01506, 0.01532,
       0.01528, 0.01584, 0.01520, 0.01576, 0.01572]
x5c = [2.955, 2.975, 2.995, 3.015, 3.035, 3.055, 3.075, 3.095, 3.115, 3.135,
       3.155, 3.175, 3.195, 3.215, 3.235, 3.255, 3.275, 3.295, 3.315, 3.335,
       3.355, 3.375, 3.395, 3.415, 3.435, 3.455, 3.475, 3.495, 3.515, 3.535,
       3.555, 3.575, 3.595, 3.615, 3.635, 3.655, 3.675, 3.695, 3.715, 3.735,
       3.755, 3.775, 3.795, 3.815, 3.835, 3.855, 3.875, 3.895, 3.915, 3.935,
       3.955, 3.975, 3.995, 4.015, 4.035, 4.055, 4.075, 4.095, 4.115, 4.135,
       4.155, 4.175, 4.195, 4.215, 4.235, 4.255, 4.275, 4.295, 4.315, 4.335,
       4.355, 4.375, 4.395, 4.415, 4.435, 4.455, 4.475, 4.495, 4.515, 4.535,
       4.555, 4.575, 4.595, 4.615, 4.635, 4.655, 4.675, 4.695, 4.715, 4.735,
       4.755, 4.775, 4.795, 4.815, 4.835, 4.855, 4.875, 4.895, 4.915, 4.935,
       4.955, 4.975, 4.995, 5.015, 5.035, 5.055, 5.075, 5.095, 5.115, 5.135,
       5.155, 5.175, 5.195, 5.215, 5.235]
y5c = [0.00897, 0.00853, 0.00929, 0.00885, 0.00961, 0.00867, 0.00943, 0.00929, 0.00905, 0.00981,
       0.00957, 0.00913, 0.00989, 0.00945, 0.01021, 0.00927, 0.01003, 0.00989, 0.00965, 0.01041,
       0.01017, 0.00973, 0.01049, 0.01005, 0.01081, 0.00987, 0.01063, 0.01049, 0.01025, 0.01101,
       0.01077, 0.01033, 0.01109, 0.01065, 0.01141, 0.01047, 0.01123, 0.01109, 0.01085, 0.01161,
       0.01137, 0.01093, 0.01169, 0.01125, 0.01201, 0.01107, 0.01183, 0.01169, 0.01145, 0.01221,
       0.01197, 0.01153, 0.01229, 0.01185, 0.01261, 0.01167, 0.01243, 0.01229, 0.01205, 0.01281,
       0.01257, 0.01213, 0.01289, 0.01245, 0.01321, 0.01227, 0.01303, 0.01289, 0.01265, 0.01341,
       0.01317, 0.01273, 0.01349, 0.01305, 0.01381, 0.01287, 0.01363, 0.01349, 0.01325, 0.01401,
       0.01377, 0.01333, 0.01409, 0.01365, 0.01441, 0.01347, 0.01423, 0.01409, 0.01385, 0.01461,
       0.01437, 0.01393, 0.01469, 0.01425, 0.01501, 0.01407, 0.01483, 0.01469, 0.01445, 0.01521,
       0.01497, 0.01453, 0.01529, 0.01485, 0.01561, 0.01467, 0.01543, 0.01529, 0.01505, 0.01581,
       0.01557, 0.01513, 0.01589, 0.01545, 0.01621]
x5d = [2.98, 3.02, 3.06, 3.10, 3.14, 3.18, 3.22, 3.26, 3.30, 3.34,
       3.38, 3.42, 3.46, 3.50, 3.54, 3.58, 3.62, 3.66, 3.70, 3.74,
       3.78, 3.82, 3.86, 3.90, 3.94, 3.98, 4.02, 4.06, 4.10, 4.14,
       4.18, 4.22, 4.26, 4.30, 4.34, 4.38, 4.42, 4.46, 4.50, 4.54,
       4.58, 4.62, 4.66, 4.70, 4.74, 4.78, 4.82, 4.86, 4.90, 4.94,
       4.98, 5.02, 5.06, 5.10, 5.14, 5.18, 5.22]
y5d = [0.00964, 0.00836, 0.00988, 0.00860, 0.01012, 0.00884, 0.01036, 0.00908, 0.01060, 0.00932,
       0.01084, 0.00956, 0.01108, 0.00980, 0.01132, 0.01004, 0.01156, 0.01028, 0.01180, 0.01052,
       0.01204, 0.01076, 0.01228, 0.01100, 0.01252, 0.01124, 0.01276, 0.01148, 0.01300, 0.01172,
       0.01324, 0.01196, 0.01348, 0.01220, 0.01372, 0.01244, 0.01396, 0.01268, 0.01420, 0.01292,
       0.01444, 0.01316, 0.01468, 0.01340, 0.01492, 0.01364, 0.01516, 0.01388, 0.01540, 0.01412,
       0.01564, 0.01436, 0.01588, 0.01460, 0.01612, 0.01484, 0.01636]
x5e = [3.00, 3.04, 3.08, 3.12, 3.16, 3.20, 3.24, 3.28, 3.32, 3.36,
       3.40, 3.44, 3.48, 3.52, 3.56, 3.60, 3.64, 3.68, 3.72, 3.76,
       3.80, 3.84, 3.88, 3.92, 3.96, 4.00, 4.04, 4.08, 4.12, 4.16,
       4.20, 4.24, 4.28, 4.32, 4.36, 4.40, 4.44, 4.48, 4.52, 4.56,
       4.60, 4.64, 4.68, 4.72, 4.76, 4.80, 4.84, 4.88, 4.92, 4.96,
       5.00, 5.04, 5.08, 5.12, 5.16, 5.20, 5.24]
y5e = [0.00830, 0.00982, 0.00854, 0.01006, 0.00878, 0.01030, 0.00902, 0.01054, 0.00926, 0.01078,
       0.00950, 0.01102, 0.00974, 0.01126, 0.00998, 0.01150, 0.01022, 0.01174, 0.01046, 0.01198,
       0.01070, 0.01222, 0.01094, 0.01246, 0.01118, 0.01270, 0.01142, 0.01294, 0.01166, 0.01318,
       0.01190, 0.01342, 0.01214, 0.01366, 0.01238, 0.01390, 0.01262, 0.01414, 0.01286, 0.01438,
       0.01310, 0.01462, 0.01334, 0.01486, 0.01358, 0.01510, 0.01382, 0.01534, 0.01406, 0.01558,
       0.01430, 0.01582, 0.01454, 0.01606, 0.01478, 0.01630, 0.01502]

# fitted lines: slope, intercept (as printed on the chart)
fits = [(2.795, 0.001), (2.803, 0.001), (2.787, 0.002), (2.823, 0.008), (2.996, 0.000)]
titles = ['Omission rate=0%', 'Omission rate=10%', 'Omission rate=50%',
          'Omission rate=90%', 'Long sample path (n = 20,000)']

fig = plt.figure(figsize=(11.57, 9.28), dpi=100)
W, H = 1157.0, 928.0

def make_ax(l, t, r, b):
    return fig.add_axes([l / W, 1 - b / H, (r - l) / W, (b - t) / H])

ax1 = make_ax(92, 40, 541, 222)
ax2 = make_ax(682, 40, 1137, 222)
ax3 = make_ax(92, 340, 541, 527)
ax4 = make_ax(684, 342, 1137, 527)
ax5 = make_ax(92, 633, 1133, 853)

panels = [
    (ax1, x1 + x1b + x1c + x1d + x1e, y1 + y1b + y1c + y1d + y1e, (0, 0.04), (0, 0.1128),
     np.arange(0, 0.041, 0.01), [0, 0.05, 0.1], 1.0),
    (ax2, x2 + x2b + x2c + x2d + x2e, y2 + y2b + y2c + y2d + y2e, (0, 0.05), (0, 0.15),
     np.arange(0, 0.051, 0.01), [0, 0.05, 0.1, 0.15], 1.0),
    (ax3, x3 + x3b + x3c + x3d + x3e, y3 + y3b + y3c + y3d + y3e, (0, 0.08), (0, 0.2255),
     np.arange(0, 0.081, 0.02), [0, 0.1, 0.2], 1.0),
    (ax4, x4 + x4b + x4c + x4d + x4e, y4 + y4b + y4c + y4d + y4e, (0, 0.318), (0, 1.0),
     np.arange(0, 0.31, 0.05), [0, 0.5, 1], 1.0),
    (ax5, x5 + x5b + x5c + x5d + x5e, y5 + y5b + y5c + y5d + y5e, (2, 7), (0.005, 0.021),
     np.arange(2, 7.01, 0.5), [0.005, 0.01, 0.015, 0.02], 1e-3),
]

label_pos = [(-0.143, 0.60, -0.33), (-0.141, 0.60, -0.33), (-0.143, 0.626, -0.31),
             (-0.141, 0.62, -0.31), (-0.072, 0.56, -0.26)]
eq_pos = [(0.334, 0.159), (0.332, 0.159), (0.334, 0.16), (0.33, 0.16), (0.4995, 0.355)]

for i, (ax, xs, ys, xl, yl, xt, yt, xscale) in enumerate(panels):
    slope, icpt = fits[i]
    ax.plot(xs, ys, 'o', mfc='none', mec=BLUE, ms=14.5, mew=1.25, clip_on=False, zorder=2)
    xx = np.array(xl)
    ax.plot(xx, slope * xx * xscale + icpt, color='k', lw=0.9, zorder=3)
    ax.set_xlim(xl)
    ax.set_ylim(yl)
    ax.set_xticks(xt)
    ax.set_yticks(yt)
    ax.xaxis.set_major_formatter(FormatStrFormatter('%g'))
    ax.yaxis.set_major_formatter(FormatStrFormatter('%g'))
    for s in ['top', 'right']:
        ax.spines[s].set_visible(False)
    for s in ['left', 'bottom']:
        ax.spines[s].set_color(GREY)
        ax.spines[s].set_linewidth(0.8)
    tl = 7.5 if i == 4 else 3.4
    ax.tick_params(direction='in', length=tl, width=0.7, colors=GREY, labelsize=17.5)
    ax.tick_params(axis='x', pad=11)
    ax.tick_params(axis='y', pad=8)
    ax.set_title(titles[i], fontsize=20.5, pad=5)
    lx, ly, xly = label_pos[i]
    ax.set_ylabel(r'$\alpha$', fontsize=20, rotation=0)
    ax.yaxis.set_label_coords(lx, ly)
    ax.yaxis.label.set_va('center')
    ax.set_xlabel(r'$1-\phi$', fontsize=20, color=GREY)
    ax.xaxis.set_label_coords(0.5, xly)
    ax.xaxis.label.set_va('center')
    ex, ey = eq_pos[i]
    ax.text(ex, ey, 'y = %.3f x + %.3f' % (slope, icpt), transform=ax.transAxes,
            fontsize=20.5, ha='left', va='center')

ax5.text(0.989, -0.27, r'$\times10^{-3}$', transform=ax5.transAxes, ha='right',
         va='center', fontsize=19, color=GREY, math_fontfamily='stix')

fig.savefig('out.png', dpi=100)
